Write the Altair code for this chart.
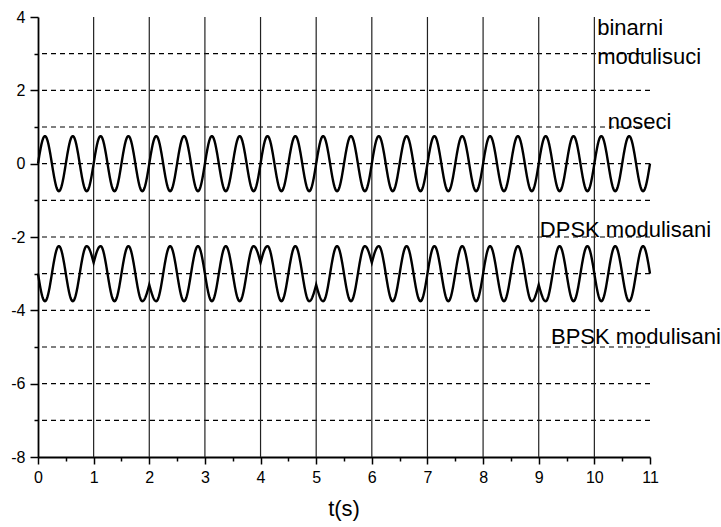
import altair as alt
import numpy as np
import pandas as pd

# ---- values ----
t_range = [0, 11]
carrier_amp = 0.75          # "noseci" carrier amplitude
carrier_freq = 2.0          # cycles per second
carrier_offset = 0.0
dpsk_offset = -3.0
dpsk_amp = 0.75
# sign of the DPSK sine in each 1 s bit interval [k, k+1)
dpsk_signs = [-1, 1, -1, -1, 1, -1, 1, 1, 1, -1, -1]
flip_times = [1, 2, 4, 5, 6, 9]
cusp_level = 0.4            # cusp height (fraction of amplitude) at phase flips

vlines = [1, 2, 3, 4, 5, 6, 7, 8, 9, 10]
hlines = [3, 2, 1, 0, -1, -2, -3, -4, -5, -6, -7]
x_ticks = [i * 0.5 for i in range(23)]
y_ticks = list(range(-8, 5))

label_text = ["binarni", "modulisuci", "noseci", "DPSK modulisani", "BPSK modulisani"]
label_x = [10.05, 10.05, 10.24, 9.02, 9.22]
label_y = [3.50, 2.73, 0.95, -2.0, -4.93]

FONT = "Liberation Sans"

# ---- signals ----
t = np.linspace(t_range[0], t_range[1], 2201)
w = 2 * np.pi * carrier_freq
carrier = carrier_offset + carrier_amp * np.sin(w * t)
k = np.minimum(np.floor(t + 1e-9).astype(int), len(dpsk_signs) - 1)
dpsk = dpsk_offset + dpsk_amp * np.array(dpsk_signs)[k] * np.sin(w * t)
quarter = 0.25 / carrier_freq
for tf in flip_times:
    sigma = -dpsk_signs[tf - 1]
    u = t - tf
    m = np.abs(u) < quarter
    dpsk[m] += dpsk_amp * sigma * cusp_level * (1 - np.abs(np.sin(w * u[m])))

df = pd.DataFrame({
    "t": np.concatenate([t, t]),
    "v": np.concatenate([carrier, dpsk]),
    "series": ["noseci"] * len(t) + ["DPSK"] * len(t),
})

xscale = alt.Scale(domain=t_range, nice=False, zero=False)
yscale = alt.Scale(domain=[-8, 4], nice=False, zero=False)

x_axis = alt.Axis(
    values=x_ticks, title=None, grid=False,
    labelExpr="datum.value % 1 === 0 ? toString(datum.value) : ''",
    tickSize={"condition": {"test": "datum.value % 1 === 0", "value": 7}, "value": 4},
    tickColor="black", tickWidth=1.5, domainColor="black", domainWidth=1.8,
    labelFont=FONT, labelFontSize=16, labelColor="black", labelPadding=5,
    labelFlush=False, labelOverlap=False,
)
y_axis = alt.Axis(
    values=y_ticks, title=None, grid=False,
    labelExpr="datum.value % 2 === 0 ? toString(datum.value) : ''",
    tickSize={"condition": {"test": "datum.value % 2 === 0", "value": 8}, "value": 4},
    tickColor="black", tickWidth=1.5, domainColor="black", domainWidth=1.8,
    labelFont=FONT, labelFontSize=16, labelColor="black", labelPadding=5,
    labelFlush=False, labelOverlap=False,
)

X = lambda f: alt.X(f, type="quantitative", scale=xscale, axis=x_axis)
Y = lambda f: alt.Y(f, type="quantitative", scale=yscale, axis=y_axis)

h_rules = alt.Chart(pd.DataFrame({"y": hlines})).mark_rule(
    color="black", strokeWidth=1.2, strokeDash=[5, 4]
).encode(y=Y("y"))

v_rules = alt.Chart(pd.DataFrame({"x": vlines})).mark_rule(
    color="#222222", strokeWidth=1.2
).encode(x=X("x"))

lines = alt.Chart(df).mark_line(color="black", strokeWidth=2.4).encode(
    x=X("t"), y=Y("v"), detail="series:N",
)

labels = alt.Chart(pd.DataFrame({"x": label_x, "y": label_y, "text": label_text})).mark_text(
    align="left", baseline="alphabetic", font=FONT, fontSize=22, color="black"
).encode(x=X("x"), y=Y("y"), text="text:N")

title = alt.Chart(pd.DataFrame({"x": [5.5], "y": [-9.62], "text": ["t(s)"]})).mark_text(
    align="center", baseline="alphabetic", font=FONT, fontSize=22, color="black"
).encode(x=X("x"), y=Y("y"), text="text:N")

chart = alt.layer(h_rules, v_rules, lines, labels, title).properties(
    width=612, height=440,
    padding={"left": 38, "top": 17, "right": 71, "bottom": 70},
    autosize=alt.AutoSizeParams(type="none"),
    background="white",
).configure_view(stroke=None)

chart.save("out.html", embed_options={"renderer": "svg", "actions": False})
